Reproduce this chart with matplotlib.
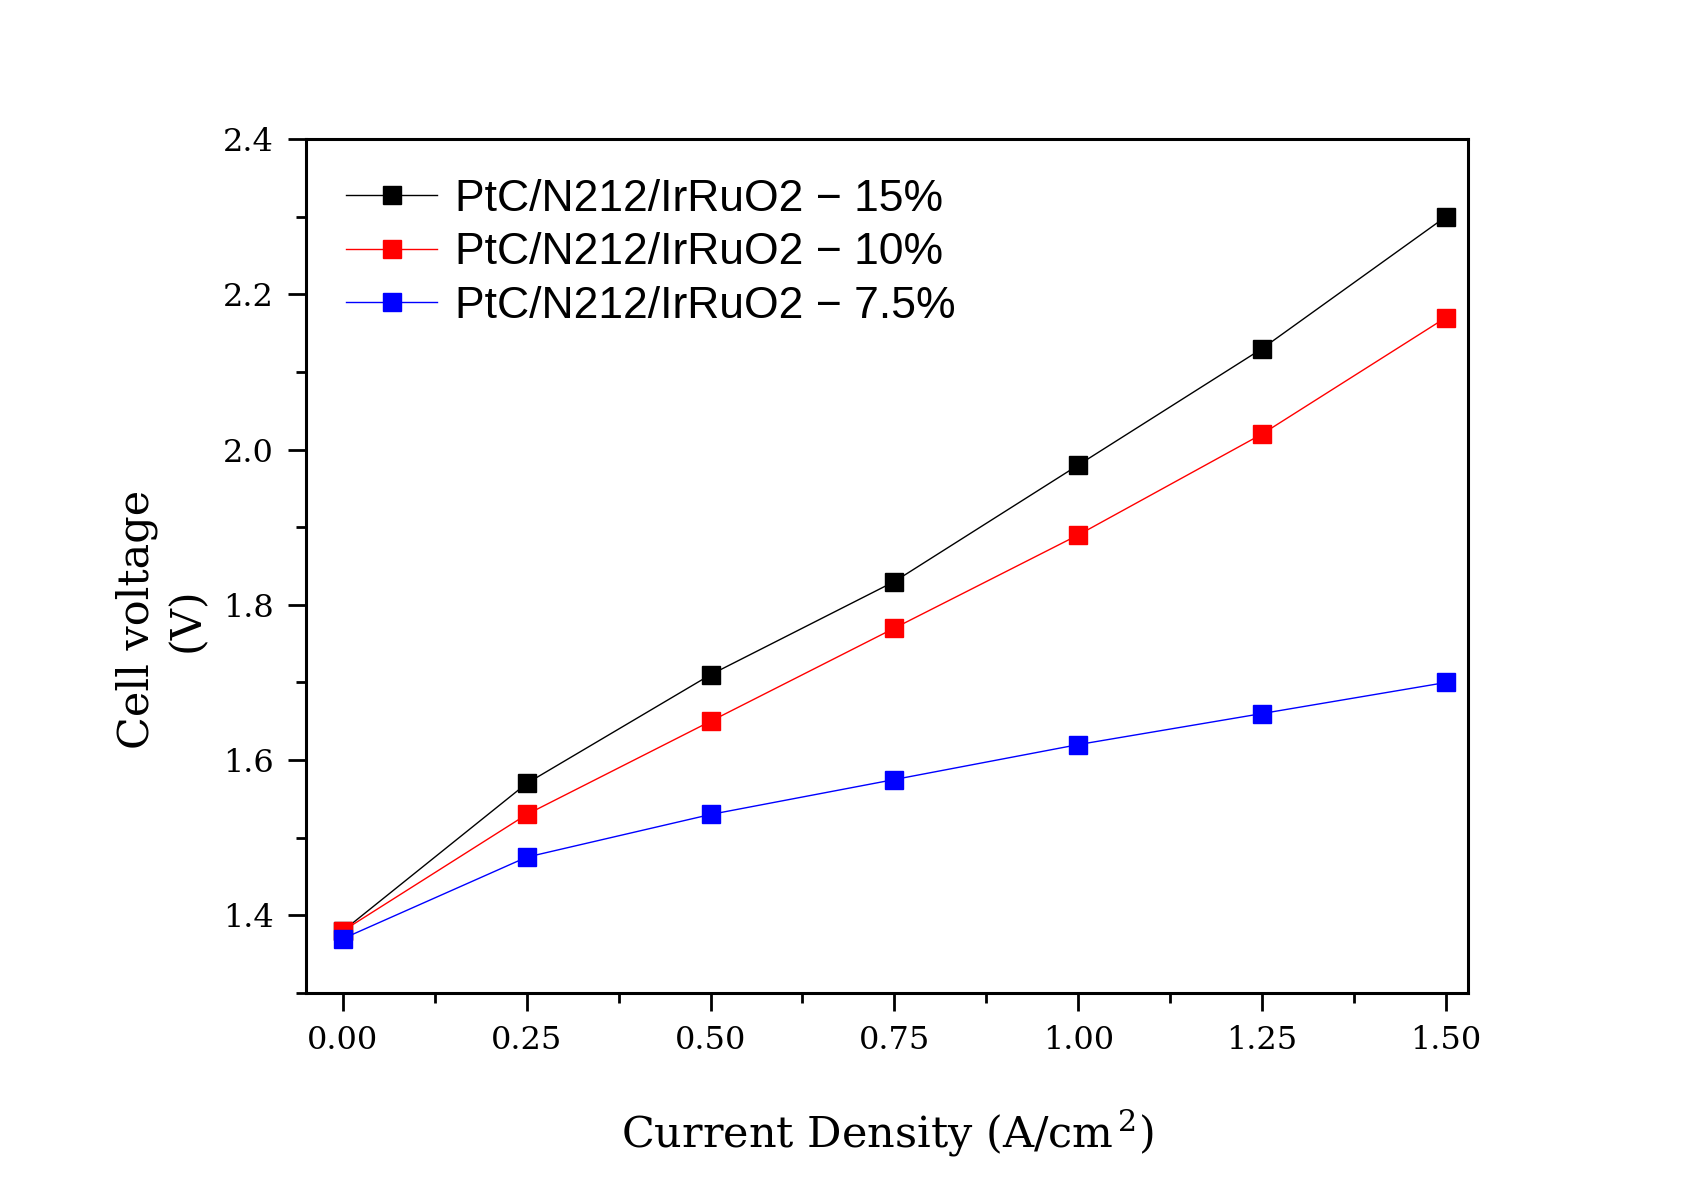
import matplotlib
matplotlib.use("Agg")
import matplotlib.pyplot as plt
from matplotlib.ticker import MultipleLocator, FormatStrFormatter

plt.rcParams['mathtext.fontset'] = 'custom'
plt.rcParams['mathtext.rm'] = 'DejaVu Serif'

current = [0.0, 0.25, 0.5, 0.75, 1.0, 1.25, 1.5]
v15 = [1.38, 1.57, 1.71, 1.83, 1.98, 2.13, 2.30]
v10 = [1.38, 1.53, 1.65, 1.77, 1.89, 2.02, 2.17]
v75 = [1.37, 1.475, 1.53, 1.575, 1.62, 1.66, 1.70]
labels = ["PtC/N212/IrRuO2 \u2212 15%", "PtC/N212/IrRuO2 \u2212 10%", "PtC/N212/IrRuO2 \u2212 7.5%"]
colors = ["black", "red", "blue"]

fig = plt.figure(figsize=(17.05, 11.91), dpi=100)
ax = fig.add_axes([0.1795, 0.1662, 0.6815, 0.7171])

for ys, lab, c in zip([v15, v10, v75], labels, colors):
    ax.plot(current, ys, color=c, lw=1.0, marker='s', markersize=13.5,
            markerfacecolor=c, markeredgecolor=c, label=lab)

ax.set_xlim(-0.05, 1.53)
ax.set_ylim(1.3, 2.4)
ax.xaxis.set_major_locator(MultipleLocator(0.25))
ax.xaxis.set_minor_locator(MultipleLocator(0.125))
ax.yaxis.set_major_locator(MultipleLocator(0.2))
ax.yaxis.set_minor_locator(MultipleLocator(0.1))
ax.xaxis.set_major_formatter(FormatStrFormatter('%.2f'))
ax.yaxis.set_major_formatter(FormatStrFormatter('%.1f'))

for s in ax.spines.values():
    s.set_linewidth(2.2)
ax.tick_params(which='major', direction='out', length=13, width=2, labelsize=23, pad=10)
ax.tick_params(which='minor', direction='out', length=7, width=2)
for t in ax.get_xticklabels() + ax.get_yticklabels():
    t.set_family('DejaVu Serif')

ax.set_xlabel("Current Density (A/cm$^{\\,2}$)", family='DejaVu Serif', fontsize=31, va='center')
ax.xaxis.set_label_coords(0.5, -0.164)
ax.set_ylabel("Cell voltage\n(V)", family='DejaVu Serif', fontsize=31, linespacing=1.25,
              ha='center', va='center')
ax.yaxis.set_label_coords(-0.124, 0.437)

leg = ax.legend(loc='upper left', frameon=False, prop={'family': 'Liberation Sans', 'size': 32},
                handlelength=2.05, labelspacing=0.28, borderaxespad=0.5, borderpad=0.4,
                handletextpad=0.4)

fig.savefig("out.png", dpi=100)
